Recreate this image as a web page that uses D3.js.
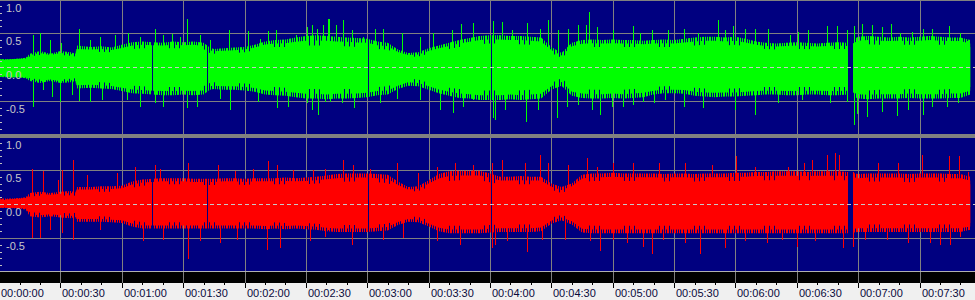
<!DOCTYPE html>
<html>
<head>
<meta charset="utf-8">
<script src="https://cdn.jsdelivr.net/npm/d3@7"></script>
<style>
  body { margin: 0; background: #f0f0f0; }
  svg { display: block; }
  text { font-family: 'Liberation Sans', Arial, sans-serif; font-size: 11px; }
</style>
</head>
<body>
<svg id="canvas" width="975" height="300"></svg>
<script>
// waveform envelope, seconds -> amplitude
// "outer" = where the dense peaks stop, "core" = the solid part
let bodyTimes = [
    0, 5, 10, 13, 15, 20, 25, 30, 35, 37.4,
    37.8, 45, 50, 55, 60, 65, 70, 75, 80, 85,
    90, 95, 100, 103, 105, 110, 115, 120, 125, 130,
    135, 140, 145, 150, 155, 160, 165, 170, 175, 180,
    185, 190, 195, 200, 205, 210, 215, 220, 225, 230,
    235, 240, 245, 250, 255, 260, 265, 270, 275, 280,
    285, 290, 295, 300, 305, 310, 315, 320, 325, 330,
    335, 340, 345, 350, 355, 360, 365, 370, 375, 380,
    385, 390, 395, 400, 405, 410, 415, 420, 425, 430,
    435, 440, 445, 450, 455, 460, 465, 470, 474.8
]

let greenPos = [
    0.12, 0.12, 0.13, 0.14, 0.20, 0.24, 0.20, 0.24, 0.22, 0.20,
    0.32, 0.30, 0.31, 0.29, 0.33, 0.37, 0.38, 0.37, 0.36, 0.38,
    0.37, 0.38, 0.36, 0.29, 0.27, 0.28, 0.29, 0.30, 0.33, 0.38,
    0.40, 0.41, 0.44, 0.46, 0.47, 0.46, 0.45, 0.44, 0.43, 0.42,
    0.38, 0.36, 0.26, 0.21, 0.22, 0.28, 0.32, 0.36, 0.40, 0.43,
    0.46, 0.47, 0.47, 0.46, 0.46, 0.45, 0.44, 0.30, 0.21, 0.36,
    0.40, 0.41, 0.40, 0.41, 0.40, 0.40, 0.39, 0.40, 0.41, 0.40,
    0.42, 0.44, 0.45, 0.45, 0.44, 0.45, 0.42, 0.38, 0.36, 0.35,
    0.36, 0.37, 0.36, 0.35, 0.36, 0.37, 0.36, 0.45, 0.46, 0.45,
    0.44, 0.45, 0.44, 0.45, 0.46, 0.45, 0.44, 0.44, 0.40
]
let greenPosCore = [
    0.11, 0.11, 0.12, 0.12, 0.16, 0.18, 0.16, 0.18, 0.17, 0.16,
    0.22, 0.22, 0.23, 0.22, 0.24, 0.27, 0.28, 0.28, 0.28, 0.28,
    0.28, 0.28, 0.27, 0.21, 0.20, 0.21, 0.21, 0.22, 0.25, 0.29,
    0.30, 0.30, 0.31, 0.32, 0.32, 0.32, 0.31, 0.31, 0.30, 0.30,
    0.27, 0.26, 0.19, 0.15, 0.16, 0.20, 0.24, 0.27, 0.30, 0.32,
    0.34, 0.35, 0.35, 0.34, 0.34, 0.33, 0.32, 0.21, 0.14, 0.26,
    0.29, 0.30, 0.30, 0.30, 0.30, 0.30, 0.29, 0.30, 0.30, 0.30,
    0.31, 0.32, 0.33, 0.33, 0.32, 0.33, 0.31, 0.28, 0.27, 0.26,
    0.27, 0.27, 0.27, 0.26, 0.27, 0.27, 0.27, 0.33, 0.34, 0.33,
    0.33, 0.33, 0.33, 0.33, 0.34, 0.33, 0.33, 0.33, 0.30
]

let greenNeg = [
    0.14, 0.15, 0.15, 0.16, 0.20, 0.23, 0.20, 0.23, 0.22, 0.20,
    0.31, 0.30, 0.31, 0.32, 0.35, 0.38, 0.39, 0.40, 0.41, 0.41,
    0.40, 0.41, 0.40, 0.33, 0.32, 0.33, 0.33, 0.34, 0.36, 0.40,
    0.41, 0.42, 0.44, 0.46, 0.46, 0.47, 0.46, 0.46, 0.45, 0.44,
    0.41, 0.40, 0.32, 0.27, 0.28, 0.33, 0.38, 0.42, 0.45, 0.46,
    0.48, 0.48, 0.48, 0.47, 0.48, 0.47, 0.46, 0.33, 0.27, 0.42,
    0.45, 0.46, 0.46, 0.45, 0.46, 0.45, 0.44, 0.40, 0.38, 0.38,
    0.39, 0.42, 0.43, 0.44, 0.43, 0.43, 0.42, 0.41, 0.40, 0.40,
    0.41, 0.41, 0.40, 0.40, 0.41, 0.41, 0.40, 0.46, 0.47, 0.46,
    0.46, 0.46, 0.45, 0.46, 0.46, 0.46, 0.45, 0.45, 0.40
]
let greenNegCore = [
    0.13, 0.14, 0.14, 0.14, 0.16, 0.18, 0.16, 0.18, 0.17, 0.16,
    0.22, 0.21, 0.22, 0.23, 0.25, 0.27, 0.28, 0.29, 0.29, 0.29,
    0.29, 0.29, 0.28, 0.23, 0.22, 0.23, 0.23, 0.24, 0.25, 0.28,
    0.29, 0.30, 0.31, 0.32, 0.32, 0.33, 0.32, 0.32, 0.32, 0.31,
    0.29, 0.28, 0.22, 0.17, 0.18, 0.23, 0.27, 0.30, 0.32, 0.33,
    0.34, 0.34, 0.34, 0.33, 0.34, 0.33, 0.32, 0.23, 0.16, 0.30,
    0.32, 0.33, 0.33, 0.32, 0.33, 0.32, 0.31, 0.29, 0.28, 0.28,
    0.28, 0.30, 0.31, 0.31, 0.31, 0.31, 0.30, 0.29, 0.29, 0.29,
    0.29, 0.29, 0.29, 0.29, 0.29, 0.29, 0.29, 0.33, 0.34, 0.33,
    0.33, 0.33, 0.32, 0.33, 0.33, 0.33, 0.32, 0.32, 0.29
]

let redPos = [
    0.08, 0.08, 0.09, 0.10, 0.16, 0.18, 0.16, 0.18, 0.19, 0.17,
    0.25, 0.25, 0.26, 0.26, 0.27, 0.33, 0.36, 0.37, 0.38, 0.38,
    0.38, 0.37, 0.37, 0.37, 0.37, 0.38, 0.38, 0.37, 0.38, 0.38,
    0.38, 0.39, 0.38, 0.39, 0.40, 0.42, 0.44, 0.45, 0.45, 0.45,
    0.44, 0.43, 0.33, 0.25, 0.26, 0.35, 0.44, 0.48, 0.49, 0.49,
    0.49, 0.45, 0.40, 0.40, 0.41, 0.40, 0.40, 0.30, 0.25, 0.30,
    0.43, 0.45, 0.45, 0.46, 0.45, 0.45, 0.45, 0.45, 0.44, 0.45,
    0.45, 0.44, 0.45, 0.45, 0.45, 0.46, 0.46, 0.47, 0.47, 0.48,
    0.48, 0.48, 0.47, 0.48, 0.48, 0.48, 0.47, 0.44, 0.45, 0.45,
    0.45, 0.45, 0.44, 0.45, 0.45, 0.45, 0.44, 0.44, 0.40
]
let redPosCore = [
    0.06, 0.06, 0.07, 0.08, 0.11, 0.12, 0.11, 0.12, 0.13, 0.12,
    0.18, 0.18, 0.18, 0.18, 0.19, 0.24, 0.27, 0.28, 0.29, 0.29,
    0.29, 0.28, 0.28, 0.28, 0.28, 0.29, 0.29, 0.28, 0.29, 0.29,
    0.29, 0.29, 0.29, 0.29, 0.30, 0.31, 0.32, 0.33, 0.33, 0.33,
    0.32, 0.31, 0.23, 0.18, 0.19, 0.25, 0.31, 0.34, 0.35, 0.35,
    0.35, 0.32, 0.29, 0.29, 0.29, 0.29, 0.29, 0.21, 0.16, 0.22,
    0.32, 0.34, 0.34, 0.34, 0.34, 0.34, 0.34, 0.34, 0.33, 0.34,
    0.34, 0.33, 0.34, 0.34, 0.34, 0.34, 0.34, 0.35, 0.35, 0.35,
    0.35, 0.35, 0.35, 0.35, 0.35, 0.35, 0.35, 0.32, 0.33, 0.33,
    0.33, 0.33, 0.32, 0.33, 0.33, 0.33, 0.32, 0.32, 0.29
]

let redNeg = [
    0.06, 0.06, 0.07, 0.08, 0.18, 0.20, 0.18, 0.20, 0.21, 0.19,
    0.26, 0.26, 0.26, 0.27, 0.28, 0.33, 0.36, 0.36, 0.36, 0.36,
    0.36, 0.36, 0.36, 0.36, 0.36, 0.36, 0.36, 0.36, 0.36, 0.37,
    0.36, 0.37, 0.36, 0.37, 0.38, 0.40, 0.41, 0.41, 0.41, 0.41,
    0.40, 0.39, 0.31, 0.26, 0.27, 0.33, 0.40, 0.43, 0.43, 0.43,
    0.43, 0.42, 0.41, 0.41, 0.41, 0.41, 0.40, 0.29, 0.24, 0.30,
    0.42, 0.43, 0.43, 0.43, 0.43, 0.43, 0.43, 0.43, 0.43, 0.43,
    0.43, 0.43, 0.43, 0.43, 0.43, 0.43, 0.43, 0.43, 0.43, 0.43,
    0.43, 0.43, 0.43, 0.43, 0.43, 0.43, 0.43, 0.41, 0.41, 0.41,
    0.41, 0.41, 0.41, 0.41, 0.41, 0.41, 0.41, 0.41, 0.38
]
let redNegCore = [
    0.05, 0.05, 0.05, 0.06, 0.12, 0.13, 0.12, 0.13, 0.14, 0.13,
    0.18, 0.18, 0.18, 0.19, 0.20, 0.24, 0.27, 0.27, 0.27, 0.27,
    0.27, 0.27, 0.27, 0.27, 0.27, 0.27, 0.27, 0.27, 0.27, 0.28,
    0.27, 0.28, 0.27, 0.28, 0.29, 0.30, 0.31, 0.31, 0.31, 0.31,
    0.30, 0.29, 0.22, 0.18, 0.19, 0.24, 0.30, 0.32, 0.32, 0.32,
    0.32, 0.31, 0.30, 0.30, 0.30, 0.30, 0.29, 0.20, 0.16, 0.21,
    0.31, 0.32, 0.32, 0.32, 0.32, 0.32, 0.32, 0.32, 0.32, 0.32,
    0.32, 0.32, 0.32, 0.32, 0.32, 0.32, 0.32, 0.32, 0.32, 0.32,
    0.32, 0.32, 0.32, 0.32, 0.32, 0.32, 0.32, 0.30, 0.30, 0.30,
    0.30, 0.30, 0.30, 0.30, 0.30, 0.30, 0.30, 0.30, 0.28
]

// single peaks sticking out of the body: [seconds, amplitude]
let greenSpikesUp = [
    [16.6, 0.47], [20, 0.51], [24.9, 0.40], [30.5, 0.36], [39.2, 0.56], [44.4, 0.40], [49.3, 0.45],
    [56.7, 0.47], [63.2, 0.51], [68.9, 0.45], [76.2, 0.57], [80.3, 0.48], [84.4, 0.49], [88.5, 0.45],
    [92, 0.71], [98.2, 0.48], [103.1, 0.40], [112.4, 0.55], [121.9, 0.54], [127.6, 0.42], [131.6, 0.53],
    [135.4, 0.55], [145, 0.48], [150.4, 0.59], [152.9, 0.62], [155.3, 0.57], [158.2, 0.62], [160.8, 0.71],
    [161.5, 0.71], [164.6, 0.62], [168.3, 0.70], [172.7, 0.55], [178.1, 0.45], [183.8, 0.56], [187.9, 0.57],
    [196.9, 0.50], [205.8, 0.45], [212.3, 0.51], [221.3, 0.55], [225.7, 0.64], [231.9, 0.65], [241.4, 0.68],
    [245.8, 0.66], [250.6, 0.55], [258, 0.65], [264.5, 0.57], [268.2, 0.70], [273.1, 0.55], [278.3, 0.57],
    [283.2, 0.62], [286.8, 0.62], [288.6, 0.81], [292.2, 0.60], [300.3, 0.55], [309.8, 0.61], [313.4, 0.50],
    [319.1, 0.55], [326.9, 0.55], [335, 0.56], [341.9, 0.50], [351.7, 0.70], [355, 0.55], [359, 0.61],
    [364.7, 0.57], [369.6, 0.57], [376.1, 0.57], [386.7, 0.48], [390.8, 0.52], [395.7, 0.55], [404.7, 0.61],
    [409.6, 0.61], [414.5, 0.55], [418, 0.61], [421.8, 0.64], [426.7, 0.62], [431.6, 0.60], [436.1, 0.64],
    [440.5, 0.50], [446.3, 0.52], [451.9, 0.57], [456, 0.57], [464.2, 0.61], [469.9, 0.50], [473.2, 0.38]
]

let greenSpikesDown = [
    [16.7, 0.58], [21.6, 0.33], [25.7, 0.43], [29.8, 0.51], [35.5, 0.41], [39.2, 0.50], [44.4, 0.51],
    [50.2, 0.48], [62.4, 0.48], [68.9, 0.58], [76.2, 0.53], [80.3, 0.58], [91.7, 0.60], [96.6, 0.58],
    [108, 0.46], [112.9, 0.63], [126.8, 0.51], [135.7, 0.60], [141.4, 0.58], [150.4, 0.53], [152.9, 0.63],
    [156.1, 0.70], [159.4, 0.51], [161.8, 0.51], [167.5, 0.53], [173.7, 0.60], [177.3, 0.43], [186.3, 0.53],
    [194.4, 0.46], [205.8, 0.48], [215.6, 0.63], [222.1, 0.67], [227, 0.58], [231.9, 0.48], [241.4, 0.75],
    [242.5, 0.77], [247.4, 0.63], [257.7, 0.80], [263.7, 0.63], [273, 0.74], [277.5, 0.58], [283.2, 0.55],
    [289.8, 0.63], [293.8, 0.70], [299.6, 0.58], [305.2, 0.58], [310.1, 0.55], [315, 0.51], [320.4, 0.53],
    [325.6, 0.48], [335, 0.58], [344.3, 0.60], [359.9, 0.63], [369.6, 0.70], [381, 0.53], [392.4, 0.48],
    [406.3, 0.53], [414.5, 0.51], [418, 0.85], [419.4, 0.68], [424.3, 0.73], [431.6, 0.65], [438.9, 0.72],
    [444.6, 0.63], [451.9, 0.70], [456, 0.58], [463.4, 0.58], [469, 0.53]
]

let redSpikesUp = [
    [16.2, 0.52], [21.6, 0.48], [28.9, 0.35], [30.6, 0.50], [36.3, 0.65], [42.8, 0.43], [57.5, 0.45],
    [66.5, 0.55], [76.2, 0.57], [78.7, 0.52], [92.5, 0.60], [107.2, 0.57], [115.3, 0.48], [124.3, 0.52],
    [131.6, 0.63], [135.7, 0.57], [143.9, 0.50], [153.6, 0.50], [159.4, 0.52], [168.3, 0.65], [173.2, 0.57],
    [181.4, 0.52], [194.4, 0.60], [205, 0.45], [214, 0.55], [222.9, 0.60], [231.9, 0.57], [240.9, 0.60],
    [245.8, 0.65], [257.2, 0.60], [264.5, 0.72], [268.6, 0.60], [278.3, 0.57], [287.3, 0.67], [292.2, 0.55],
    [300.3, 0.60], [310.1, 0.60], [322.4, 0.60], [335.4, 0.60], [348.4, 0.57], [360.2, 0.70], [369.6, 0.55],
    [385.9, 0.55], [393.3, 0.60], [397.3, 0.65], [404.7, 0.72], [408.8, 0.75], [410.4, 0.72], [417.7, 0.47],
    [429.9, 0.60], [439.7, 0.60], [451.1, 0.72], [464.2, 0.70], [469.1, 0.71], [473.9, 0.47]
]

let redSpikesDown = [
    [16.2, 0.50], [20, 0.50], [24.9, 0.38], [30.6, 0.43], [36.3, 0.53], [49.3, 0.38], [70.5, 0.55],
    [80.3, 0.53], [92.2, 0.81], [98.2, 0.55], [108, 0.58], [116.2, 0.53], [130.8, 0.67], [137.4, 0.65],
    [152, 0.55], [159.4, 0.48], [161, 0.38], [172.7, 0.60], [187.9, 0.53], [197.7, 0.50], [214, 0.55],
    [225.4, 0.60], [240.9, 0.65], [242.5, 0.60], [248.2, 0.55], [258, 0.70], [265.3, 0.53], [276.7, 0.53],
    [288.9, 0.55], [293.8, 0.69], [300.3, 0.53], [306.9, 0.58], [315, 0.63], [319.1, 0.73], [324.8, 0.53],
    [335.4, 0.58], [342.7, 0.73], [354.9, 0.65], [364.7, 0.55], [375.3, 0.58], [382.7, 0.53], [390, 0.63],
    [398.9, 0.55], [412.8, 0.65], [417.7, 0.63], [423.4, 0.53], [434, 0.53], [444.6, 0.58], [455.2, 0.58],
    [460.1, 0.60], [465, 0.60], [469.9, 0.48]
]

// near-silent moments where the trace drops out: [from, to] in seconds
let dropouts = [[74.6, 75.0], [101.5, 101.9], [180.2, 180.6], [240.3, 240.7], [415.1, 417.5]]

let yLabelValues = [1, 0.5, 0, -0.5]
let yLabels = ['1.0', '0.5', '0.0', '-0.5']
let timeTicks = [0, 30, 60, 90, 120, 150, 180, 210, 240, 270, 300, 330, 360, 390, 420, 450]
let timeLabels = ['00:00:00', '00:00:30', '00:01:00', '00:01:30', '00:02:00', '00:02:30', '00:03:00', '00:03:30',
                  '00:04:00', '00:04:30', '00:05:00', '00:05:30', '00:06:00', '00:06:30', '00:07:00', '00:07:30']

let width = 975
let navy = '#000080'
let gridColor = '#808080'

let canvas = d3.select('#canvas')
let defs = canvas.append('defs')

let xScale = d3.scaleLinear()
                .domain([0, 450])
                .range([-0.9, 919.5])

let px = (v) => Math.round(v) + 0.5

let panels = [
    {
        name: 'left', top: 0, bottom: 134, color: '#00ff00',
        yScale: d3.scaleLinear().domain([-1, 1]).range([135.3, -0.7]),
        pos: greenPos, posCore: greenPosCore, neg: greenNeg, negCore: greenNegCore,
        up: greenSpikesUp, down: greenSpikesDown
    },
    {
        name: 'right', top: 137, bottom: 271, color: '#ff0000',
        yScale: d3.scaleLinear().domain([-1, 1]).range([272, 136]),
        pos: redPos, posCore: redPosCore, neg: redNeg, negCore: redNegCore,
        up: redSpikesUp, down: redSpikesDown
    }
]

// the fringe of dense peaks is drawn as thin vertical hatching
let makeHatch = (id, color, period, columns) => {
    let p = defs.append('pattern')
                .attr('id', id)
                .attr('patternUnits', 'userSpaceOnUse')
                .attr('x', 0)
                .attr('y', 0)
                .attr('width', period)
                .attr('height', 300)
    p.selectAll('rect')
        .data(columns)
        .enter()
        .append('rect')
        .attr('x', (c) => c)
        .attr('y', 0)
        .attr('width', 1)
        .attr('height', 300)
        .attr('fill', color)
}

// pieces of the time line that are not a dropout
let keep = []
let start = -10
dropouts.forEach((d) => {
    keep.push([start, d[0]])
    start = d[1]
})
keep.push([start, 500])

let keepX0 = (d, i) => i === 0 ? -20 : Math.max(Math.round(xScale(dropouts[i - 1][0])) + 1, Math.round(xScale(d[0])))

let drawPanel = (panel) => {
    let yScale = panel.yScale
    let g = canvas.append('g').attr('class', 'channel-' + panel.name)

    makeHatch('sparse-' + panel.name, panel.color, 7, [0, 2, 3, 5])
    makeHatch('dense-' + panel.name, panel.color, 5, [0, 1, 2, 3])

    g.append('rect')
        .attr('x', 0)
        .attr('y', panel.top)
        .attr('width', width)
        .attr('height', panel.bottom - panel.top)
        .attr('fill', navy)

    // horizontal grid
    g.selectAll('.hgrid')
        .data([1, 0.5, -0.5, -1])
        .enter()
        .append('line')
        .attr('x1', 0)
        .attr('x2', width)
        .attr('y1', (v) => px(Math.min(Math.max(yScale(v), panel.top), panel.bottom)))
        .attr('y2', (v) => px(Math.min(Math.max(yScale(v), panel.top), panel.bottom)))
        .attr('stroke', (v) => v === -1 ? '#b0b0b0' : gridColor)
        .attr('shape-rendering', 'crispEdges')

    // vertical grid, under the trace
    g.selectAll('.vgrid')
        .data(timeTicks.slice(1))
        .enter()
        .append('line')
        .attr('x1', (t) => px(xScale(t)))
        .attr('x2', (t) => px(xScale(t)))
        .attr('y1', panel.top)
        .attr('y2', panel.bottom)
        .attr('stroke', gridColor)
        .attr('shape-rendering', 'crispEdges')

    // clip: panel minus the dropouts
    let clipId = 'clip-' + panel.name
    let clip = defs.append('clipPath').attr('id', clipId)
    clip.selectAll('rect')
        .data(keep)
        .enter()
        .append('rect')
        .attr('x', keepX0)
        .attr('width', (d, i) => Math.max(0, Math.round(xScale(d[1])) - keepX0(d, i)))
        .attr('y', panel.top)
        .attr('height', panel.bottom - panel.top)

    let wave = g.append('g').attr('clip-path', 'url(#' + clipId + ')')

    let band = (top, bottom) => d3.area()
                    .x((t) => xScale(t))
                    .y0((t, i) => yScale(-bottom(i)))
                    .y1((t, i) => yScale(top(i)))

    let outerArea = band((i) => panel.pos[i], (i) => panel.neg[i])
    let midArea = band((i) => (panel.pos[i] + panel.posCore[i]) / 2, (i) => (panel.neg[i] + panel.negCore[i]) / 2)
    let coreArea = band((i) => panel.posCore[i], (i) => panel.negCore[i])

    wave.append('path')
        .datum(bodyTimes)
        .attr('d', outerArea)
        .attr('fill', 'url(#sparse-' + panel.name + ')')

    wave.append('path')
        .datum(bodyTimes)
        .attr('d', midArea)
        .attr('fill', 'url(#dense-' + panel.name + ')')

    wave.append('path')
        .datum(bodyTimes)
        .attr('d', coreArea)
        .attr('fill', panel.color)

    wave.selectAll('.up')
        .data(panel.up)
        .enter()
        .append('line')
        .attr('x1', (d) => px(xScale(d[0])))
        .attr('x2', (d) => px(xScale(d[0])))
        .attr('y1', yScale(0))
        .attr('y2', (d) => yScale(d[1]))
        .attr('stroke', panel.color)
        .attr('shape-rendering', 'crispEdges')

    wave.selectAll('.down')
        .data(panel.down)
        .enter()
        .append('line')
        .attr('x1', (d) => px(xScale(d[0])))
        .attr('x2', (d) => px(xScale(d[0])))
        .attr('y1', yScale(0))
        .attr('y2', (d) => yScale(-d[1]))
        .attr('stroke', panel.color)
        .attr('shape-rendering', 'crispEdges')

    // dashed centre line
    g.append('line')
        .attr('x1', 0)
        .attr('x2', width)
        .attr('y1', px(yScale(0) - 0.5))
        .attr('y2', px(yScale(0) - 0.5))
        .attr('stroke', '#c8c8c8')
        .attr('stroke-dasharray', '4,3')
        .attr('shape-rendering', 'crispEdges')

    // small ticks on the left edge every 0.1
    let minor = d3.range(-10, 11).filter((k) => k % 5 !== 0).map((k) => k / 10)
    g.selectAll('.ytick')
        .data(minor.filter((v) => yScale(v) > panel.top + 1 && yScale(v) < panel.bottom - 1))
        .enter()
        .append('rect')
        .attr('x', 0)
        .attr('y', (v) => Math.round(yScale(v)))
        .attr('width', 2)
        .attr('height', 1)
        .attr('fill', '#c0c0c0')

    g.selectAll('.ylabel')
        .data(yLabelValues)
        .enter()
        .append('text')
        .attr('x', 6)
        .attr('y', (v) => Math.max(yScale(v), panel.top) + 11.7)
        .attr('fill', '#c8c8c8')
        .text((v, i) => yLabels[i])
}

panels.forEach((panel) => drawPanel(panel))

// separator between channels
canvas.append('rect')
    .attr('x', 0)
    .attr('y', 134)
    .attr('width', width)
    .attr('height', 3)
    .attr('fill', gridColor)

// time axis
canvas.append('rect')
    .attr('x', 0)
    .attr('y', 272)
    .attr('width', width)
    .attr('height', 11)
    .attr('fill', '#000000')

canvas.append('g')
    .selectAll('line')
    .data(timeTicks.slice(1))
    .enter()
    .append('line')
    .attr('x1', (t) => px(xScale(t)))
    .attr('x2', (t) => px(xScale(t)))
    .attr('y1', 272)
    .attr('y2', 283)
    .attr('stroke', gridColor)
    .attr('shape-rendering', 'crispEdges')

let axisTicks = d3.range(0, 480, 10)

canvas.append('g')
    .selectAll('line')
    .data(axisTicks)
    .enter()
    .append('line')
    .attr('x1', (t) => px(xScale(t)))
    .attr('x2', (t) => px(xScale(t)))
    .attr('y1', 283)
    .attr('y2', (t) => t % 30 === 0 ? 288 : 285)
    .attr('stroke', '#000000')
    .attr('shape-rendering', 'crispEdges')

canvas.append('g')
    .selectAll('text')
    .data(timeTicks)
    .enter()
    .append('text')
    .attr('x', (t) => Math.max(1, Math.round(xScale(t)) + 2))
    .attr('y', 297)
    .attr('fill', '#0a0a3c')
    .text((t, i) => timeLabels[i])
</script>
</body>
</html>
